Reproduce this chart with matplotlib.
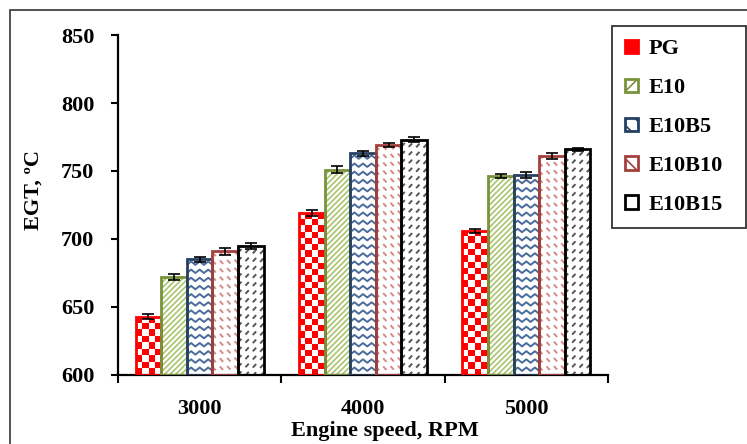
import numpy as np
import matplotlib
matplotlib.use("Agg")
import matplotlib.pyplot as plt
from matplotlib.patches import Patch, Rectangle

#data
speeds=["3000","4000","5000"]
fuels=["PG","E10","E10B5","E10B10","E10B15"]
pg=[643,719,706]
e10=[672,751,746]
e10b5=[685,763,747]
e10b10=[691,769,761]
e10b15=[695,773,766]
err=[[1.5,2,1.5],[2,2.5,1.5],[2,2,2],[2.5,1.5,2],[2,2,1]]

#stil
edge=["#FF0000","#77933C","#254061","#A33F3D","#000000"]
hat=["#FF0000","#A8C46C","#4A6A9C","#D68A88","#555555"]

plt.rcParams['font.family']=['Liberation Serif','DejaVu Serif']
plt.rcParams['font.weight']='bold'
plt.rcParams['hatch.linewidth']=1.2

fig=plt.figure(figsize=(7.47,4.44),dpi=100)
ax=fig.add_axes([118/747,1-375/444,490/747,340/444])
fig.patches.append(Rectangle((10/747,-0.1),1.2,1.1-10/444,transform=fig.transFigure,
                             fill=False,edgecolor="#444444",linewidth=1.3))

x=np.arange(len(speeds))
w=0.157
vals=[pg,e10,e10b5,e10b10,e10b15]

def checker(bar):#rutmönster för PG
    x0,wb,h=bar.get_x(),bar.get_width(),bar.get_height()
    ny=int(round((h)/4.6))
    img=np.indices((ny,4)).sum(axis=0)%2
    im=ax.imshow(img,cmap=matplotlib.colors.ListedColormap(["#FF0000","white"]),
                 extent=(x0,x0+wb,600,600+h),aspect='auto',origin='lower',zorder=2,interpolation='nearest')
    im.set_clip_path(bar)

def zigzag(bar,col):#sicksack för E10B5
    x0,wb,h=bar.get_x(),bar.get_width(),bar.get_height()
    xs=np.linspace(x0,x0+wb,7)
    for y in np.arange(603,600+h+6,6):
        ys=y+np.array([0,2.5,0,2.5,0,2.5,0])
        ln,=ax.plot(xs,ys,color=col,lw=1.4,zorder=2)
        ln.set_clip_path(bar)

def dashes(bar,col,s):#streckade diagonaler
    x0,wb,h=bar.get_x(),bar.get_width(),bar.get_height()
    k=s*20/wb#lutning i dataenheter
    for y in np.arange(600-30,600+h+30,6):
        ln,=ax.plot([x0,x0+wb],[y,y+k*wb],color=col,lw=1.4,ls=(0,(2.5,3)),zorder=2)
        ln.set_clip_path(bar)

for i,v in enumerate(vals):
    pos=x+(i-2)*w
    if i==1:
        ax.bar(pos,np.array(v)-600,w,bottom=600,color="white",edgecolor=hat[i],hatch="//////",lw=0,zorder=1)
    bars=ax.bar(pos,np.array(v)-600,w,bottom=600,fill=False,edgecolor=edge[i],lw=2,zorder=3)
    for b in bars:
        if i==0: checker(b)
        if i==2: zigzag(b,hat[i])
        if i==3: dashes(b,hat[i],-1)
        if i==4: dashes(b,hat[i],1)
    ax.errorbar(pos,v,yerr=err[i],fmt='none',ecolor='black',capsize=4,elinewidth=1.2,capthick=1.2,zorder=4)

ax.set_xlim(-0.5,2.5)
ax.set_ylim(600,850)
ax.set_yticks(np.arange(600,851,50))
ax.set_xticks(x)
ax.set_xticklabels(speeds)
ax.set_xticks([-0.5,0.5,1.5,2.5],minor=True)
ax.tick_params(axis='x',which='major',length=0,pad=17,labelsize=16)
ax.tick_params(axis='x',which='minor',length=6,width=1.5,direction='out')
ax.tick_params(axis='y',length=5,width=1.5,pad=12,labelsize=16)
for s in ['top','right']:
    ax.spines[s].set_visible(False)
for s in ['left','bottom']:
    ax.spines[s].set_linewidth(1.6)
ax.set_ylabel("EGT, ºC",fontsize=16,fontweight='bold')
ax.yaxis.set_label_coords(-0.152,0.545)
ax.set_xlabel("Engine speed, RPM",fontsize=16,fontweight='bold')
ax.xaxis.set_label_coords(0.545,-0.135)

handles=[Patch(facecolor="#FF0000",edgecolor=edge[0],lw=2),
         Patch(facecolor="white",edgecolor=edge[1],hatch="//",lw=2),
         Patch(facecolor="white",edgecolor=edge[2],hatch="\\\\",lw=2),
         Patch(facecolor="white",edgecolor=edge[3],hatch="\\",lw=2),
         Patch(facecolor="white",edgecolor=edge[4],lw=2)]
leg=fig.legend(handles,fuels,loc='upper left',bbox_to_anchor=(612/747,1-227/444,134/747,201/444),
               mode='expand',fontsize=16,frameon=True,fancybox=False,edgecolor='black',
               handlelength=0.55,handleheight=0.55,handletextpad=0.5,labelspacing=0.85,
               borderpad=0.6,borderaxespad=0)
leg.get_frame().set_linewidth(1.3)
plt.setp(leg.get_texts(),fontweight='bold')

fig.savefig("out.png",dpi=100)
